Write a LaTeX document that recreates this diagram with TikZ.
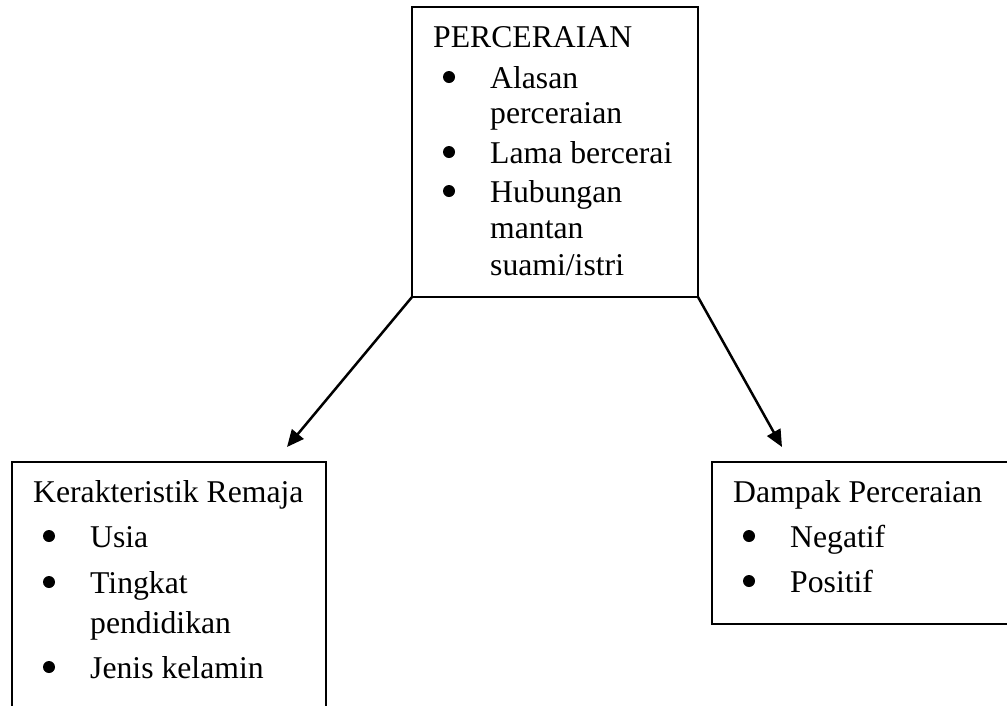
\documentclass[tikz,border=0pt]{standalone}
\usepackage{fontspec}
\setmainfont{Liberation Serif}
\usetikzlibrary{arrows.meta}

\begin{document}
\begin{tikzpicture}[x=1pt, y=-1pt, font=\fontsize{31.7}{38}\selectfont,
        kotak/.style={draw, line width=1.6pt, anchor=north west, inner sep=0pt, outer sep=0pt},
        teks/.style={anchor=base west, inner sep=0pt},
        titik/.style={circle, fill, inner sep=0pt, minimum size=12pt},
        panah/.style={line width=2.5pt, -{Triangle[length=17pt, width=15pt]}}]

        % ==========================================
        % 0. Area del disegno (tagliata ai bordi)
        % ==========================================
        \clip (0,0) rectangle (1007,705);

        % ==========================================
        % 1. Kotak PERCERAIAN (atas)
        % ==========================================
        \node[kotak, minimum width=286pt, minimum height=290pt] (cerai) at (412,7) {};
        \node[teks] (ceraiJudul) at (433,47) {PERCERAIAN};
        \node[titik] (ceraiB1) at (449,77) {};
        \node[teks] (ceraiA1) at (490,88) {Alasan};
        \node[teks] (ceraiA2) at (490,123) {perceraian};
        \node[titik] (ceraiB2) at (449,152) {};
        \node[teks] (ceraiL1) at (490,163) {Lama bercerai};
        \node[titik] (ceraiB3) at (449,191) {};
        \node[teks] (ceraiH1) at (490,202) {Hubungan};
        \node[teks] (ceraiH2) at (490,238) {mantan};
        \node[teks] (ceraiH3) at (490,275) {suami/istri};

        % ==========================================
        % 2. Kotak Karakteristik Remaja (kiri, terpotong)
        % ==========================================
        \node[kotak, minimum width=314pt, minimum height=300pt] (remaja) at (12,462) {};
        \node[teks] (remajaJudul) at (33,502) {Kerakteristik Remaja};
        \node[titik] (remajaB1) at (49,536) {};
        \node[teks] (remajaU) at (90,547) {Usia};
        \node[titik] (remajaB2) at (49,582) {};
        \node[teks] (remajaT1) at (90,593) {Tingkat};
        \node[teks] (remajaT2) at (90,633) {pendidikan};
        \node[titik] (remajaB3) at (49,667) {};
        \node[teks] (remajaJ) at (90,678) {Jenis kelamin};

        % ==========================================
        % 3. Kotak Dampak Perceraian (kanan, terpotong)
        % ==========================================
        \node[kotak, minimum width=300pt, minimum height=162pt] (dampak) at (712,462) {};
        \node[teks] (dampakJudul) at (733,502) {Dampak Perceraian};
        \node[titik] (dampakB1) at (749,536) {};
        \node[teks] (dampakN) at (790,547) {Negatif};
        \node[titik] (dampakB2) at (749,581) {};
        \node[teks] (dampakP) at (790,592) {Positif};

        % ==========================================
        % 4. Panah
        % ==========================================
        \coordinate (ujungKiri) at (287,447);
        \coordinate (ujungKanan) at (782,447);
        \draw[panah] (cerai.south west) -- (ujungKiri);
        \draw[panah] (cerai.south east) -- (ujungKanan);

    \end{tikzpicture}
\end{document}
